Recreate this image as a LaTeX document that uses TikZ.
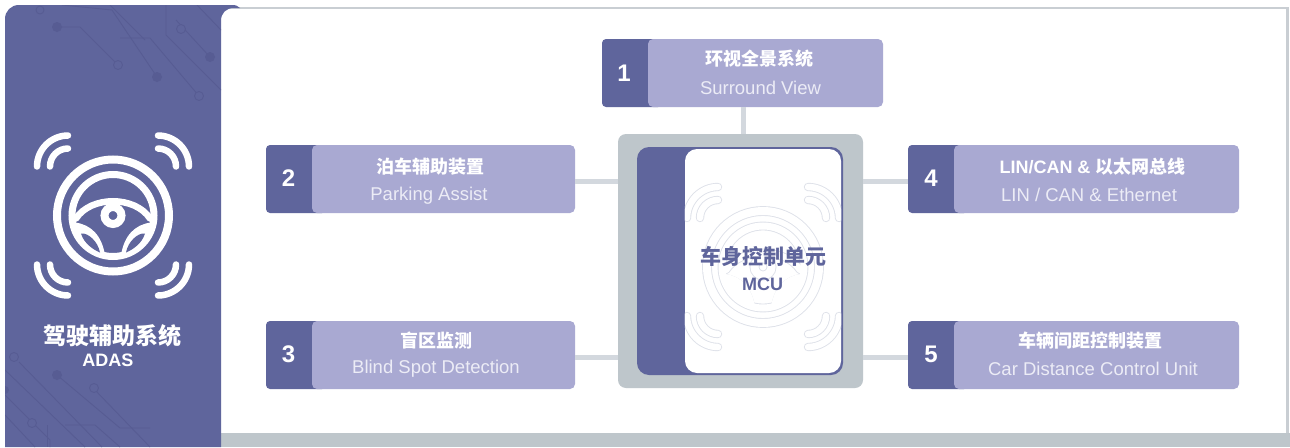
\documentclass[tikz,border=0pt]{standalone}
\usepackage{fontspec}
\setmainfont{Liberation Sans}
\newfontfamily\cjk{Noto Sans CJK SC}
\definecolor{panel}{HTML}{5F659C}
\definecolor{tracec}{HTML}{575C93}
\definecolor{lightb}{HTML}{A9A9D2}
\definecolor{greyb}{HTML}{BEC6CB}
\definecolor{linkc}{HTML}{D3D8DE}
\definecolor{framec}{HTML}{C9CED3}
\definecolor{engc}{HTML}{ECECF6}
\definecolor{wmc}{HTML}{DEE1E9}
\tikzset{
  darkbox/.style={fill=panel,rounded corners=4pt,inner sep=0pt,minimum height=68pt},
  lightbox/.style={fill=lightb,rounded corners=5pt,inner sep=0pt,minimum height=68pt},
  numtext/.style={text=white,font=\fontsize{24}{24}\selectfont\bfseries,inner sep=0pt},
  cntext/.style={text=white,font=\fontsize{18}{20}\selectfont\cjk\bfseries,inner sep=0pt},
  entext/.style={text=engc,font=\fontsize{18.5}{20}\selectfont,inner sep=0pt},
  linkline/.style={draw=linkc,line width=5pt},
  trace/.style={draw=tracec,line width=0.9pt},
  tracedot/.style={fill=tracec},
}
% wheel icon: #1 x, #2 y, #3 colour, #4 extra stroke width, #5 leaf fill
\newcommand{\wheelicon}[5]{%
\begin{scope}[shift={(#1,#2)},line cap=round,draw=#3]
  \foreach \sx/\sy in {-1/-1,1/-1,-1/1,1/1}{
    \draw[line width=6.5pt+#4] (\sx*45,\sy*80) .. controls (\sx*62,\sy*80) and (\sx*76,\sy*66) .. (\sx*76,\sy*49);
    \draw[line width=6.5pt+#4] (\sx*45,\sy*67) .. controls (\sx*55,\sy*67) and (\sx*63,\sy*59) .. (\sx*63,\sy*49);
  }
  \draw[line width=8pt+#4] (0,0) circle (56);
  \draw[line width=7pt+#4] (0,0) circle (41);
  \foreach \sx in {-1,1}{
    \fill[#3] (\sx*38,7) .. controls (\sx*22,9) and (\sx*11,20) .. (\sx*8,40)
      .. controls (\sx*22,38) and (\sx*34,26) .. cycle;
    \fill[#5] (\sx*32,18) .. controls (\sx*25,17) and (\sx*15,26) .. (\sx*13,37)
      .. controls (\sx*20,34) and (\sx*29,28) .. cycle;
  }
  \draw[line width=6.5pt+#4] (-37,3) .. controls (-22,-20) and (22,-20) .. (37,3);
  \draw[line width=8pt+#4] (0,0) circle (8.5);
\end{scope}}
\begin{document}
\begin{tikzpicture}[x=1pt,y=-1pt]
\useasboundingbox (0,0) rectangle (1290,447);
\fill[white] (0,0) rectangle (1290,447);
% frame
\draw[framec,line width=2.5pt] (225,8) -- (1287.5,8) -- (1287.5,434);
\fill[greyb] (221,433) rectangle (1290,447);
% left panel
\fill[panel] (5,447) -- (5,19) .. controls (5,11) and (11,5) .. (19,5) -- (232,5)
  .. controls (236,5) and (238,6) .. (240,8) -- (234,8) .. controls (226,8) and (221,13) .. (221,21) -- (221,447) -- cycle;
% circuit traces on the panel
\begin{scope}
  \clip (5,5) rectangle (221,100);
  \draw[trace] (57,27) -- (80,27) -- (118,65);
  \draw[trace] (62,5) -- (112,10) -- (157,77);
  \draw[trace] (110,5) -- (145,40);
  \draw[trace] (120,38) -- (150,38) -- (199,96);
  \draw[trace] (166,5) -- (166,35) -- (221,90);
  \draw[trace] (176,20) -- (210,57);
  \draw[trace] (197,5) -- (221,30);
  \draw[trace,fill=panel] (118,65) circle (4.5);
  \draw[trace,fill=panel] (199,96) circle (4.5);
  \draw[trace,fill=panel] (181,29) circle (4.5);
  \draw[trace,fill=panel] (40,10) circle (4);
  \fill[tracedot] (57,27) circle (5);
  \fill[tracedot] (157,77) circle (5);
  \fill[tracedot] (210,57) circle (5);
\end{scope}
\begin{scope}
  \clip (5,345) rectangle (221,447);
  \draw[trace] (5,370) -- (85,447);
  \draw[trace] (19,362) -- (102,447);
  \draw[trace] (5,395) -- (50,440) -- (50,447);
  \draw[trace] (5,415) -- (35,447);
  \draw[trace] (57,375) -- (120,428) -- (150,428);
  \draw[trace] (95,390) -- (150,447);
  \draw[trace] (65,425) -- (95,425) -- (120,447);
  \draw[trace] (47,425) -- (47,447);
  \draw[trace,fill=panel] (14,357) circle (4.5);
  \draw[trace,fill=panel] (94,388) circle (4.5);
  \draw[trace,fill=panel] (32,423) circle (4.5);
  \fill[tracedot] (57,375) circle (5);
  \fill[tracedot] (5,390) circle (4);
\end{scope}
% left icon and title
\wheelicon{113}{215.5}{white}{0pt}{panel}
\node[text=white,font=\fontsize{23}{24}\selectfont\cjk\bfseries,inner sep=0pt] (adascn) at (112.5,336) {驾驶辅助系统};
\node[text=white,font=\fontsize{18}{20}\selectfont\bfseries,inner sep=0pt] (adasen) at (108,360) {ADAS};
% MCU
\node[fill=greyb,rounded corners=8pt,minimum width=245pt,minimum height=254pt,inner sep=0pt] (mcu) at (740.5,261) {};
\node[fill=panel,rounded corners=12pt,minimum width=206pt,minimum height=228pt,inner sep=0pt] (mcuback) at (740,261) {};
\node[fill=white,rounded corners=12pt,minimum width=156pt,minimum height=224pt,inner sep=0pt] (mcufront) at (763,261) {};
\begin{scope}
  \clip[rounded corners=12pt] (mcufront.south west) rectangle (mcufront.north east);
  \wheelicon{763}{267}{wmc}{1.8pt}{wmc}
  \wheelicon{763}{267}{white}{0pt}{white}
\end{scope}
\node[text=panel,font=\fontsize{21}{22}\selectfont\cjk\bfseries,inner sep=0pt] (mcucn) at (763,256) {车身控制单元};
\node[text=panel,font=\fontsize{18}{20}\selectfont\bfseries,inner sep=0pt] (mcuen) at (762.5,284) {MCU};
% box 1
\node[darkbox,minimum width=60pt] (d1) at (632,73) {};
\node[lightbox,minimum width=235pt] (box1) at (765.5,73) {};
\node[numtext] (n1) at (624,73) {1};
\node[cntext] (c1) at (759.5,59) {环视全景系统};
\node[entext] (e1) at (760.5,88) {Surround View};
% box 2
\node[darkbox,minimum width=60pt] (d2) at (296,179) {};
\node[lightbox,minimum width=263pt] (box2) at (443.5,179) {};
\node[numtext] (n2) at (288.5,178) {2};
\node[cntext] (c2) at (430,167) {泊车辅助装置};
\node[entext] (e2) at (429,196) {Parking Assist};
% box 3
\node[darkbox,minimum width=60pt] (d3) at (296,355) {};
\node[lightbox,minimum width=263pt] (box3) at (443.5,355) {};
\node[numtext] (n3) at (288.5,354) {3};
\node[cntext] (c3) at (436,341) {盲区监测};
\node[entext] (e3) at (436,369) {Blind Spot Detection};
% box 4
\node[darkbox,minimum width=60pt] (d4) at (938,179) {};
\node[lightbox,minimum width=285pt] (box4) at (1096.5,179) {};
\node[numtext] (n4) at (931,178) {4};
\node[text=white,font=\fontsize{18}{20}\selectfont\bfseries,inner sep=0pt] (c4) at (1092.5,167) {LIN/CAN \& {\cjk 以太网总线}};
\node[entext] (e4) at (1089,195) {LIN / CAN \& Ethernet};
% box 5
\node[darkbox,minimum width=60pt] (d5) at (938,355) {};
\node[lightbox,minimum width=285pt] (box5) at (1096.5,355) {};
\node[numtext] (n5) at (931,354) {5};
\node[cntext] (c5) at (1090,341) {车辆间距控制装置};
\node[entext] (e5) at (1093,369) {Car Distance Control Unit};
% connectors
\draw[linkline] ([xshift=2.5pt]mcu.north) -- ([xshift=2.5pt]mcu.north |- d1.south);
\draw[linkline] ([yshift=-2.5pt]box2.east) -- ([yshift=-2.5pt]box2.east -| mcu.west);
\draw[linkline] ([yshift=-2.5pt]box3.east) -- ([yshift=-2.5pt]box3.east -| mcu.west);
\draw[linkline] ([yshift=-2.5pt]d4.west) -- ([yshift=-2.5pt]d4.west -| mcu.east);
\draw[linkline] ([yshift=-2.5pt]d5.west) -- ([yshift=-2.5pt]d5.west -| mcu.east);
\end{tikzpicture}
\end{document}
